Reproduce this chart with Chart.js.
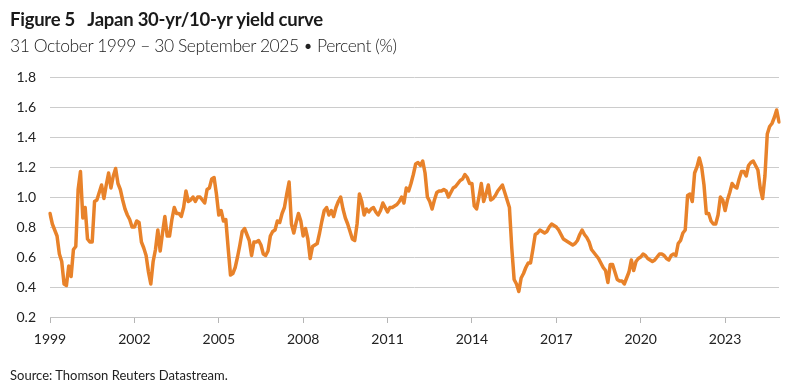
<!DOCTYPE html>
<html><head><meta charset="utf-8">
<script src="https://cdn.jsdelivr.net/npm/chart.js@4.4.1/dist/chart.umd.min.js"></script>
<style>
html,body{margin:0;padding:0;background:#fff;}
body{width:805px;height:390px;position:relative;overflow:hidden;font-family:Lato,"Open Sans",sans-serif;}
#wrap{position:absolute;left:0;top:0;width:805px;height:390px;}
#title{position:absolute;left:10px;top:8px;font-size:18.5px;font-weight:700;color:#1a1a1a;white-space:pre;letter-spacing:-0.25px;}
#subtitle{position:absolute;left:10px;top:35px;font-size:17.5px;font-weight:300;color:#222;white-space:pre;letter-spacing:-0.45px;}
#source{position:absolute;left:10px;top:367px;font-size:13px;color:#222;white-space:pre;}
</style></head><body>
<div id="wrap"><canvas id="c" width="805" height="390"></canvas></div>
<div id="title">Figure 5   Japan 30-yr/10-yr yield curve</div>
<div id="subtitle">31 October 1999 – 30 September 2025 • Percent (%)</div>
<div id="source">Source: Thomson Reuters Datastream.</div>
<script>
// Monthly categories: Oct 1999 .. Sep 2025
const startYear = 1999, startMonth = 10, monthCount = 312;
const months = [];
for (let k = 0; k < monthCount; k++) {
  const m = startMonth - 1 + k;
  months.push((startYear + Math.floor(m / 12)) + '-' + String(m % 12 + 1).padStart(2, '0'));
}
// Tick labels shown every 36 months
const yearTicks = ['1999','2002','2005','2008','2011','2014','2017','2020','2023'];
const yTicks = [0.2,0.4,0.6,0.8,1.0,1.2,1.4,1.6,1.8];
// Japan 30-yr minus 10-yr yield spread, percent
const spread = [
  0.89,0.82,0.78,0.74,0.62,0.57,0.42,0.41,0.54,0.47,0.65,0.67,
  1.05,1.17,0.86,0.93,0.72,0.70,0.70,0.97,0.98,1.03,1.08,0.99,
  1.08,1.16,1.06,1.14,1.19,1.09,1.05,0.98,0.92,0.88,0.85,0.80,
  0.80,0.84,0.83,0.70,0.66,0.61,0.50,0.42,0.57,0.65,0.78,0.64,
  0.76,0.87,0.74,0.74,0.85,0.93,0.89,0.89,0.87,0.93,1.04,0.97,
  0.98,1.00,0.97,1.00,1.00,0.98,0.96,1.05,1.06,1.12,1.13,1.02,
  0.88,0.91,0.84,0.85,0.66,0.48,0.49,0.53,0.60,0.68,0.77,0.79,
  0.75,0.71,0.61,0.70,0.70,0.71,0.68,0.62,0.61,0.64,0.74,0.77,
  0.78,0.84,0.83,0.89,0.93,1.02,1.10,0.82,0.76,0.83,0.89,0.84,
  0.74,0.79,0.72,0.59,0.67,0.68,0.69,0.76,0.84,0.91,0.93,0.88,
  0.91,0.87,0.93,0.97,1.00,0.92,0.86,0.82,0.77,0.72,0.71,0.82,
  1.02,0.97,0.88,0.92,0.90,0.92,0.93,0.90,0.88,0.91,0.96,0.93,
  0.90,0.93,0.93,0.94,0.95,0.97,1.00,0.96,1.06,1.04,1.09,1.15,
  1.22,1.23,1.21,1.24,1.16,1.00,0.97,0.92,0.98,1.03,1.04,1.04,
  1.05,1.04,1.00,1.03,1.06,1.07,1.09,1.11,1.12,1.15,1.13,1.09,
  1.09,0.94,0.92,1.00,1.09,0.97,1.02,1.08,0.98,0.99,1.01,1.04,
  1.06,1.08,1.03,0.98,0.93,0.66,0.45,0.42,0.37,0.46,0.49,0.53,
  0.56,0.56,0.65,0.75,0.76,0.78,0.77,0.76,0.77,0.80,0.82,0.81,
  0.80,0.78,0.75,0.72,0.71,0.70,0.69,0.68,0.69,0.71,0.75,0.78,
  0.75,0.73,0.70,0.65,0.63,0.61,0.59,0.56,0.53,0.51,0.43,0.55,
  0.55,0.50,0.45,0.44,0.44,0.42,0.46,0.50,0.58,0.51,0.57,0.59,
  0.60,0.62,0.61,0.59,0.58,0.57,0.58,0.60,0.62,0.62,0.61,0.59,
  0.58,0.61,0.62,0.61,0.69,0.71,0.76,0.78,1.01,1.02,0.97,1.16,
  1.20,1.26,1.20,1.08,0.89,0.89,0.84,0.82,0.82,0.88,1.00,0.98,
  0.91,0.98,1.03,1.09,1.07,1.06,1.12,1.17,1.17,1.14,1.21,1.23,
  1.24,1.21,1.18,1.06,0.99,1.14,1.42,1.47,1.49,1.53,1.58,1.50
];

const tickFont = {family: 'Lato, "Open Sans", sans-serif', size: 14};
new Chart(document.getElementById('c'), {
  type: 'line',
  data: {
    labels: months,
    datasets: [{
      data: spread,
      borderColor: '#E8822A',
      borderWidth: 3.5,
      pointRadius: 0,
      tension: 0,
      borderJoinStyle: 'round',
      borderCapStyle: 'round'
    }]
  },
  options: {
    responsive: false,
    animation: false,
    events: [],
    layout: {padding: {top: 77, right: 26, bottom: 33, left: 0}},
    plugins: {legend: {display: false}, tooltip: {enabled: false}, title: {display: false}},
    scales: {
      x: {
        type: 'category',
        offset: false,
        grid: {
          drawOnChartArea: false,
          drawTicks: true,
          tickLength: 6,
          color: (ctx) => (ctx.index % 36 === 0 ? '#b5b5b5' : 'rgba(0,0,0,0)')
        },
        border: {display: true, color: '#c4c4c4', width: 1},
        ticks: {
          autoSkip: false,
          maxRotation: 0,
          minRotation: 0,
          padding: 8,
          color: '#222',
          font: tickFont,
          callback: (v, i) => (i % 36 === 0 ? yearTicks[i / 36] : '')
        },
        afterFit: (s) => { s.height = 40; }
      },
      y: {
        min: 0.2,
        max: 1.8,
        afterBuildTicks: (s) => { s.ticks = yTicks.map(v => ({value: v})); },
        grid: {color: '#cccccc', lineWidth: 1, drawTicks: false},
        border: {display: false},
        ticks: {
          padding: 14,
          color: '#222',
          font: tickFont,
          callback: (v) => Number(v).toFixed(1)
        },
        afterFit: (s) => { s.width = 50; }
      }
    }
  }
});
</script>
</body></html>
